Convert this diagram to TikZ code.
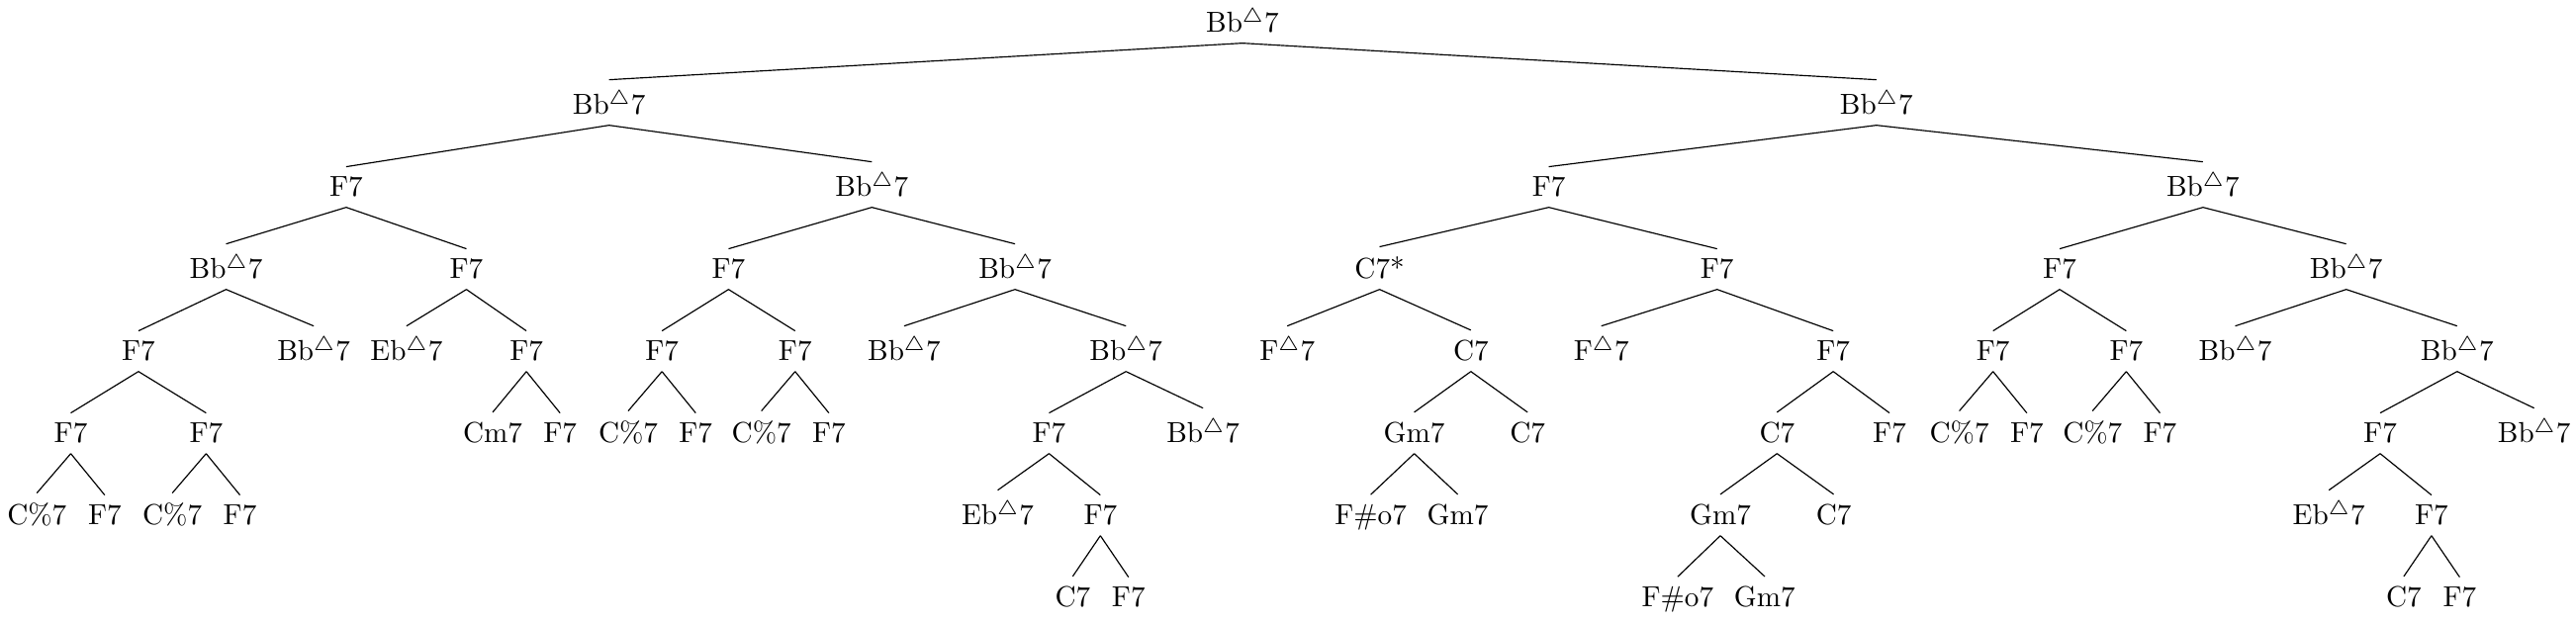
\documentclass[tikz,border=0pt]{standalone}
\usepackage{tikz}
\newcommand{\majtri}{$^{\triangle}$}

\begin{document}
\begin{tikzpicture}[
    chord/.style={anchor=base, inner sep=0.333em, font=\normalsize},
    link/.style={black, line width=0.4pt}
  ]
  \useasboundingbox (0,0) rectangle (31.37,-7.566);

  % level 0 and 1
  \node[chord] (root) at (15.13,-0.394) {Bb\majtri7};
  \node[chord] (l) at (7.417,-1.394) {Bb\majtri7};
  \node[chord] (r) at (22.85,-1.394) {Bb\majtri7};

  % level 2
  \node[chord] (ll) at (4.216,-2.394) {F7};
  \node[chord] (lr) at (10.617,-2.394) {Bb\majtri7};
  \node[chord] (rl) at (18.86,-2.394) {F7};
  \node[chord] (rr) at (26.827,-2.394) {Bb\majtri7};

  % level 3
  \node[chord] (lll) at (2.753,-3.394) {Bb\majtri7};
  \node[chord] (llr) at (5.68,-3.394) {F7};
  \node[chord] (lrl) at (8.872,-3.394) {F7};
  \node[chord] (lrr) at (12.361,-3.394) {Bb\majtri7};
  \node[chord] (rll) at (16.80,-3.394) {C7*};
  \node[chord] (rlr) at (20.91,-3.394) {F7};
  \node[chord] (rrl) at (25.082,-3.394) {F7};
  \node[chord] (rrr) at (28.571,-3.394) {Bb\majtri7};

  % level 4
  \node[chord] (llll) at (1.686,-4.394) {F7};
  \node[chord] (lllr) at (3.82,-4.394) {Bb\majtri7};
  \node[chord] (llrl) at (4.95,-4.394) {Eb\majtri7};
  \node[chord] (llrr) at (6.41,-4.394) {F7};
  \node[chord] (lrll) at (8.061,-4.394) {F7};
  \node[chord] (lrlr) at (9.683,-4.394) {F7};
  \node[chord] (lrrl) at (11.01,-4.394) {Bb\majtri7};
  \node[chord] (lrrr) at (13.712,-4.394) {Bb\majtri7};
  \node[chord] (rlll) at (15.675,-4.394) {F\majtri7};
  \node[chord] (rllr) at (17.912,-4.394) {C7};
  \node[chord] (rlrl) at (19.5,-4.394) {F\majtri7};
  \node[chord] (rlrr) at (22.325,-4.394) {F7};
  \node[chord] (rrll) at (24.271,-4.394) {F7};
  \node[chord] (rrlr) at (25.893,-4.394) {F7};
  \node[chord] (rrrl) at (27.22,-4.394) {Bb\majtri7};
  \node[chord] (rrrr) at (29.922,-4.394) {Bb\majtri7};

  % level 5
  \node[chord] (lllll) at (0.862,-5.394) {F7};
  \node[chord] (llllr) at (2.510,-5.394) {F7};
  \node[chord] (llrrl) at (6.00,-5.394) {Cm7};
  \node[chord] (llrrr) at (6.82,-5.394) {F7};
  \node[chord] (lrlll) at (7.650,-5.394) {C\%7};
  \node[chord] (lrllr) at (8.472,-5.394) {F7};
  \node[chord] (lrlrl) at (9.272,-5.394) {C\%7};
  \node[chord] (lrlrr) at (10.094,-5.394) {F7};
  \node[chord] (lrrrl) at (12.775,-5.394) {F7};
  \node[chord] (lrrrr) at (14.65,-5.394) {Bb\majtri7};
  \node[chord] (rllrl) at (17.222,-5.394) {Gm7};
  \node[chord] (rllrr) at (18.602,-5.394) {C7};
  \node[chord] (rlrrl) at (21.64,-5.394) {C7};
  \node[chord] (rlrrr) at (23.01,-5.394) {F7};
  \node[chord] (rrlll) at (23.860,-5.394) {C\%7};
  \node[chord] (rrllr) at (24.682,-5.394) {F7};
  \node[chord] (rrlrl) at (25.482,-5.394) {C\%7};
  \node[chord] (rrlrr) at (26.304,-5.394) {F7};
  \node[chord] (rrrrl) at (28.985,-5.394) {F7};
  \node[chord] (rrrrr) at (30.86,-5.394) {Bb\majtri7};

  % level 6
  \node[chord] (llllll) at (0.449,-6.394) {C\%7};
  \node[chord] (lllllr) at (1.275,-6.394) {F7};
  \node[chord] (llllrl) at (2.098,-6.394) {C\%7};
  \node[chord] (llllrr) at (2.922,-6.394) {F7};
  \node[chord] (lrrrll) at (12.150,-6.394) {Eb\majtri7};
  \node[chord] (lrrrlr) at (13.400,-6.394) {F7};
  \node[chord] (rllrll) at (16.692,-6.394) {F\#o7};
  \node[chord] (rllrlr) at (17.752,-6.394) {Gm7};
  \node[chord] (rlrrll) at (20.95,-6.394) {Gm7};
  \node[chord] (rlrrlr) at (22.33,-6.394) {C7};
  \node[chord] (rrrrll) at (28.360,-6.394) {Eb\majtri7};
  \node[chord] (rrrrlr) at (29.610,-6.394) {F7};

  % level 7
  \node[chord] (lrrrlrl) at (13.063,-7.394) {C7};
  \node[chord] (lrrrlrr) at (13.743,-7.394) {F7};
  \node[chord] (rlrrlll) at (20.43,-7.394) {F\#o7};
  \node[chord] (rlrrllr) at (21.49,-7.394) {Gm7};
  \node[chord] (rrrrlrl) at (29.273,-7.394) {C7};
  \node[chord] (rrrrlrr) at (29.953,-7.394) {F7};

  % edges
  \draw[link] (root.south) -- (l.north) (root.south) -- (r.north);
  \draw[link] (l.south) -- (ll.north) (l.south) -- (lr.north);
  \draw[link] (r.south) -- (rl.north) (r.south) -- (rr.north);
  \draw[link] (ll.south) -- (lll.north) (ll.south) -- (llr.north);
  \draw[link] (lr.south) -- (lrl.north) (lr.south) -- (lrr.north);
  \draw[link] (rl.south) -- (rll.north) (rl.south) -- (rlr.north);
  \draw[link] (rr.south) -- (rrl.north) (rr.south) -- (rrr.north);
  \draw[link] (lll.south) -- (llll.north) (lll.south) -- (lllr.north);
  \draw[link] (llr.south) -- (llrl.north) (llr.south) -- (llrr.north);
  \draw[link] (lrl.south) -- (lrll.north) (lrl.south) -- (lrlr.north);
  \draw[link] (lrr.south) -- (lrrl.north) (lrr.south) -- (lrrr.north);
  \draw[link] (rll.south) -- (rlll.north) (rll.south) -- (rllr.north);
  \draw[link] (rlr.south) -- (rlrl.north) (rlr.south) -- (rlrr.north);
  \draw[link] (rrl.south) -- (rrll.north) (rrl.south) -- (rrlr.north);
  \draw[link] (rrr.south) -- (rrrl.north) (rrr.south) -- (rrrr.north);
  \draw[link] (llll.south) -- (lllll.north) (llll.south) -- (llllr.north);
  \draw[link] (llrr.south) -- (llrrl.north) (llrr.south) -- (llrrr.north);
  \draw[link] (lrll.south) -- (lrlll.north) (lrll.south) -- (lrllr.north);
  \draw[link] (lrlr.south) -- (lrlrl.north) (lrlr.south) -- (lrlrr.north);
  \draw[link] (lrrr.south) -- (lrrrl.north) (lrrr.south) -- (lrrrr.north);
  \draw[link] (rllr.south) -- (rllrl.north) (rllr.south) -- (rllrr.north);
  \draw[link] (rlrr.south) -- (rlrrl.north) (rlrr.south) -- (rlrrr.north);
  \draw[link] (rrll.south) -- (rrlll.north) (rrll.south) -- (rrllr.north);
  \draw[link] (rrlr.south) -- (rrlrl.north) (rrlr.south) -- (rrlrr.north);
  \draw[link] (rrrr.south) -- (rrrrl.north) (rrrr.south) -- (rrrrr.north);
  \draw[link] (lllll.south) -- (llllll.north) (lllll.south) -- (lllllr.north);
  \draw[link] (llllr.south) -- (llllrl.north) (llllr.south) -- (llllrr.north);
  \draw[link] (lrrrl.south) -- (lrrrll.north) (lrrrl.south) -- (lrrrlr.north);
  \draw[link] (rllrl.south) -- (rllrll.north) (rllrl.south) -- (rllrlr.north);
  \draw[link] (rlrrl.south) -- (rlrrll.north) (rlrrl.south) -- (rlrrlr.north);
  \draw[link] (rrrrl.south) -- (rrrrll.north) (rrrrl.south) -- (rrrrlr.north);
  \draw[link] (lrrrlr.south) -- (lrrrlrl.north) (lrrrlr.south) -- (lrrrlrr.north);
  \draw[link] (rlrrll.south) -- (rlrrlll.north) (rlrrll.south) -- (rlrrllr.north);
  \draw[link] (rrrrlr.south) -- (rrrrlrl.north) (rrrrlr.south) -- (rrrrlrr.north);
\end{tikzpicture}
\end{document}
